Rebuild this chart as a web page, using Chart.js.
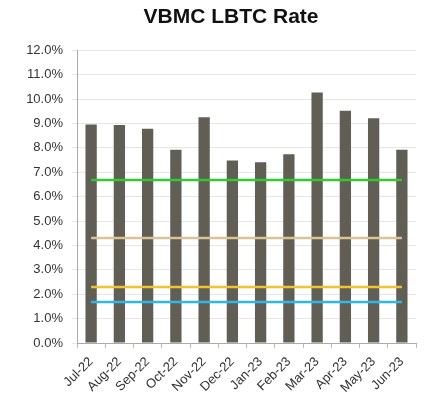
<!DOCTYPE html>
<html><head><meta charset="utf-8">
<script src="https://cdn.jsdelivr.net/npm/chart.js@4"></script>
<style>html,body{margin:0;padding:0;background:#fff}#wrap{width:425px;height:412px}</style>
</head><body><div id="wrap"><canvas id="c" width="425" height="412"></canvas></div>
<script>
const categories = ['Jul-22','Aug-22','Sep-22','Oct-22','Nov-22','Dec-22','Jan-23','Feb-23','Mar-23','Apr-23','May-23','Jun-23'];
const rates = [8.96, 8.93, 8.78, 7.92, 9.25, 7.48, 7.41, 7.74, 10.27, 9.52, 9.21, 7.92];
const greenLine = [6.68,6.68,6.68,6.68,6.68,6.68,6.68,6.68,6.68,6.68,6.68,6.68];
const tanLine = [4.3,4.3,4.3,4.3,4.3,4.3,4.3,4.3,4.3,4.3,4.3,4.3];
const yellowLine = [2.3,2.3,2.3,2.3,2.3,2.3,2.3,2.3,2.3,2.3,2.3,2.3];
const blueLine = [1.68,1.68,1.68,1.68,1.68,1.68,1.68,1.68,1.68,1.68,1.68,1.68];

const lineDs = (data, color) => ({type:'line', data, borderColor:color, borderWidth:2.5, pointRadius:0, fill:false, order:0});

const titleShift = {
  id:'titleShift',
  afterLayout(chart){
    const t = chart.titleBlock;
    if (t) { t.left = 46; t.right = 416; }
  }
};

new Chart(document.getElementById('c'), {
  type:'bar',
  data:{labels:categories, datasets:[
    lineDs(greenLine,'#2ecc2e'),
    lineDs(tanLine,'#dcc296'),
    lineDs(yellowLine,'#f2c230'),
    lineDs(blueLine,'#2fb6ea'),
    {type:'bar', data:rates, backgroundColor:'#605e55', barPercentage:0.4, categoryPercentage:1.0, order:1}
  ]},
  plugins:[titleShift],
  options:{
    responsive:false, animation:false,
    layout:{padding:{left:0,right:9,top:0,bottom:0}},
    plugins:{
      legend:{display:false}, tooltip:{enabled:false},
      title:{display:true, text:'VBMC LBTC Rate', color:'#111', font:{family:'Liberation Sans, Arial', size:21, weight:'bold'}, padding:{top:5,bottom:20}}
    },
    scales:{
      x:{
        offset:true,
        grid:{display:true, drawOnChartArea:false, offset:true, color:'#bbb', tickLength:5},
        border:{color:'#aaa'},
        ticks:{color:'#333', font:{family:'Liberation Sans, Arial', size:13}, maxRotation:45, minRotation:45, padding:6},
        afterFit(s){ s.height = 69; }
      },
      y:{
        min:0, max:12,
        grid:{color:'#e6e6e6', tickLength:5},
        border:{color:'#aaa'},
        ticks:{stepSize:1, color:'#333', font:{family:'Liberation Sans, Arial', size:13}, padding:9, callback:v=>v.toFixed(1)+'%'},
        afterFit(s){ s.width = 77; }
      }
    }
  }
});
</script></body></html>
